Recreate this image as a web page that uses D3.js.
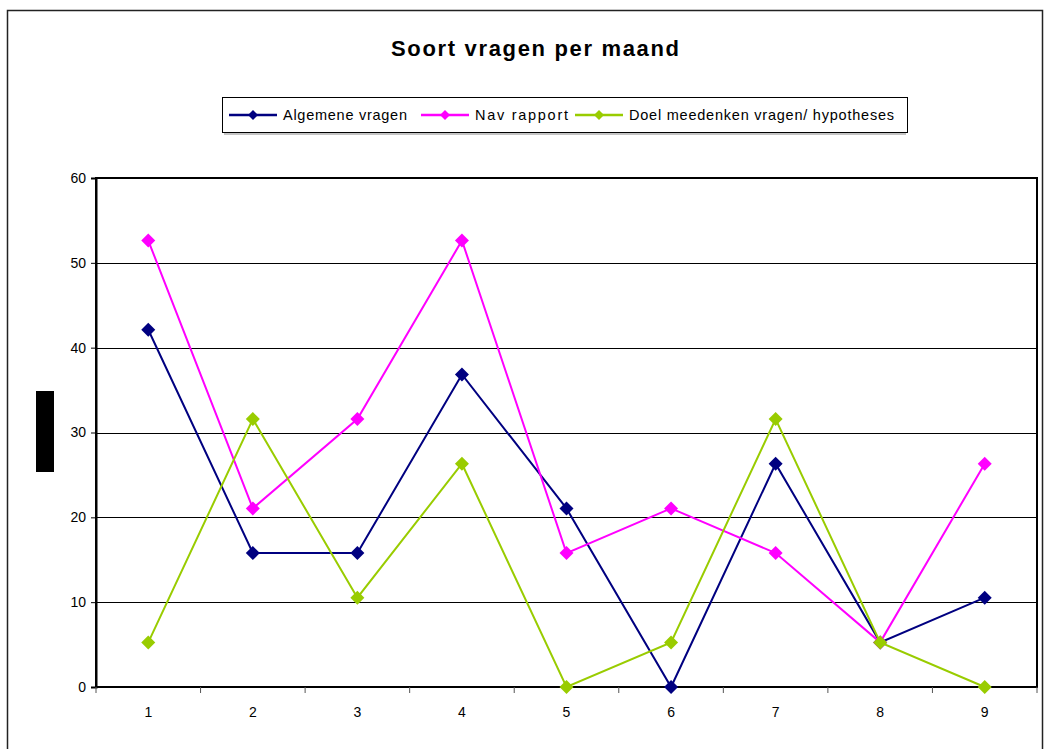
<!DOCTYPE html>
<html><head><meta charset="utf-8">
<script src="https://cdn.jsdelivr.net/npm/d3@7"></script>
<style>body{margin:0;background:#fff}svg{display:block;font-family:"Liberation Sans",Arial,sans-serif}</style>
</head><body><svg id="c" width="1045" height="749"></svg>
<script>
const categories = ["1","2","3","4","5","6","7","8","9"];
const seriesNames = ["Algemene vragen","Nav rapport","Doel meedenken vragen/ hypotheses"];
const algemene = [42.11,15.79,15.79,36.84,21.05,0,26.32,5.26,10.53];
const navRapport = [52.63,21.05,31.58,52.63,15.79,21.05,15.79,5.26,26.32];
const doel = [5.26,31.58,10.53,26.32,0,5.26,31.58,5.26,0];
const yTicks = [0,10,20,30,40,50,60];
const colors = ["#000080","#FF00FF","#99CC00"];
const title = "Soort vragen per maand";

const svg = d3.select("#c");
const L=96,R=1037,T=178,B=687;
svg.append("rect").attr("x",7.5).attr("y",10.5).attr("width",1035).attr("height",760)
  .attr("fill","none").attr("stroke","#222").attr("stroke-width",1.5);
svg.append("text").attr("x",535).attr("y",56).attr("text-anchor","middle")
  .style("font-size","22px").attr("font-weight","bold")
  .attr("textLength",288).attr("lengthAdjust","spacing").text(title);

const x = d3.scaleBand().domain(categories).range([L,R]);
const y = d3.scaleLinear().domain([0,60]).range([B,T]);

// gridlines
svg.append("g").selectAll("line").data(yTicks.filter(d=>d>0)).join("line")
  .attr("x1",L).attr("x2",R).attr("y1",d=>Math.round(y(d))+0.5).attr("y2",d=>Math.round(y(d))+0.5)
  .attr("stroke","#000").attr("stroke-width",1);
// plot frame
svg.append("rect").attr("x",L).attr("y",T).attr("width",R-L).attr("height",B-T)
  .attr("fill","none").attr("stroke","#000").attr("stroke-width",2);

const yAx = svg.append("g").attr("transform",`translate(${L},0)`)
  .call(d3.axisLeft(y).tickValues(yTicks).tickSize(5).tickPadding(5));
yAx.attr("font-size",null).attr("font-family",null);
yAx.select(".domain").attr("stroke","#000").attr("stroke-width",2);
yAx.selectAll("text").style("font-size","14px").style("font-family","Liberation Sans, Arial").attr("fill","#000");
yAx.selectAll(".tick line").attr("stroke","#000");

const xAx = svg.append("g").attr("transform",`translate(0,${B})`)
  .call(d3.axisBottom(x).tickSize(0).tickPadding(20));
xAx.attr("font-size",null).attr("font-family",null);
xAx.select(".domain").remove();
xAx.selectAll("text").style("font-size","14px").style("font-family","Liberation Sans, Arial").attr("fill","#000");
// category separator ticks
svg.append("g").selectAll("line").data(categories.concat(["end"])).join("line")
  .attr("x1",(d,i)=>L+i*x.step()).attr("x2",(d,i)=>L+i*x.step())
  .attr("y1",B).attr("y2",B+6).attr("stroke","#555").attr("stroke-width",1);

// redacted label block
svg.append("rect").attr("x",36).attr("y",391).attr("width",18).attr("height",81).attr("fill","#000");

const data = [algemene,navRapport,doel];
const diamondPath = "M0,-7L7,0L0,7L-7,0Z";
const line = d3.line().x((d,i)=>x(categories[i])+x.bandwidth()/2).y(d=>y(d));
data.forEach((vals,k)=>{
  const g = svg.append("g");
  g.append("path").datum(vals).attr("d",line).attr("fill","none").attr("stroke",colors[k]).attr("stroke-width",2);
  g.selectAll("path.m").data(vals).join("path").attr("class","m")
    .attr("d",diamondPath)
    .attr("transform",(d,i)=>`translate(${x(categories[i])+x.bandwidth()/2},${y(d)})`)
    .attr("fill",colors[k]);
});

// legend
const lg = svg.append("g");
lg.append("rect").attr("x",222.5).attr("y",97.5).attr("width",685).attr("height",35)
  .attr("fill","#fff").attr("stroke","#000").attr("stroke-width",1);
lg.append("line").attr("x1",224).attr("x2",906).attr("y1",134).attr("y2",134).attr("stroke","#888");
const itemX = [229,421,575];
const textW = [124,93,265];
seriesNames.forEach((n,k)=>{
  const x0=itemX[k], cy=115;
  lg.append("line").attr("x1",x0).attr("x2",x0+48).attr("y1",cy).attr("y2",cy).attr("stroke",colors[k]).attr("stroke-width",2.5);
  lg.append("path").attr("d","M0,-5L5,0L0,5L-5,0Z").attr("transform",`translate(${x0+24},${cy})`).attr("fill",colors[k]);
  lg.append("text").attr("x",x0+54).attr("y",cy+5).style("font-size","14.5px")
    .attr("textLength",textW[k]).attr("lengthAdjust","spacing").text(n);
});
</script></body></html>
